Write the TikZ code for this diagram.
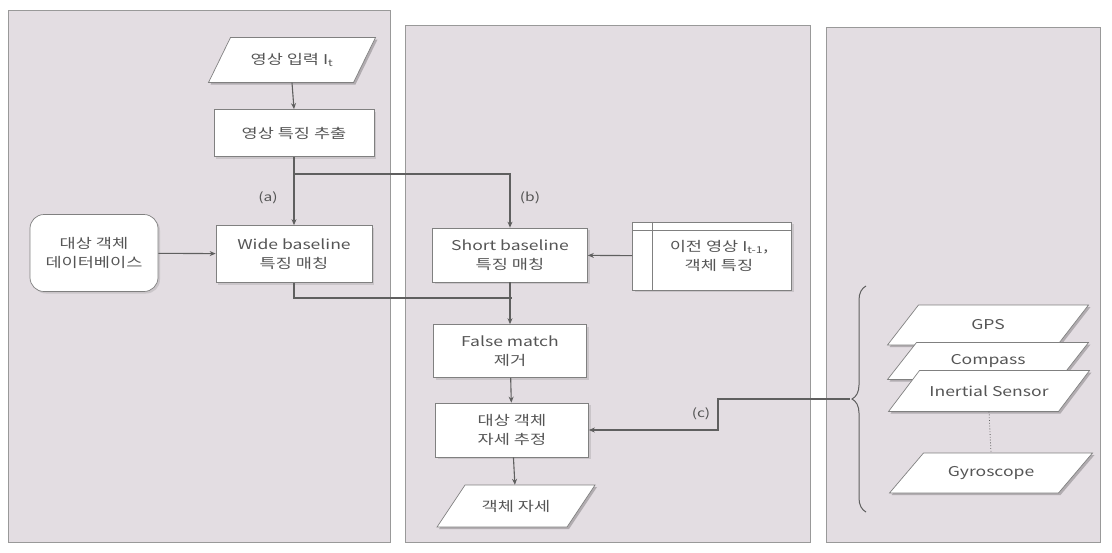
\documentclass[tikz,border=0pt]{standalone}
\usepackage{fontspec}
\setmainfont{Noto Sans CJK KR}[FakeStretch=1.3]
\usetikzlibrary{arrows.meta,decorations.pathreplacing,shadows}
\definecolor{panelcol}{RGB}{227,221,226}
\definecolor{txtcol}{RGB}{85,85,85}
\definecolor{linecol}{RGB}{95,95,95}
\tikzset{
  panel/.style={fill=panelcol,draw=black!40,line width=0.8pt},
  boxbase/.style={text=txtcol,align=center,
    font=\fontsize{13.5}{19}\selectfont,inner sep=2pt},
  procbox/.style={boxbase,rectangle,fill=white,draw=black!50,line width=0.7pt,
    drop shadow={shadow xshift=2pt,shadow yshift=-2pt,opacity=.25}},
  paraline/.style={fill=white,draw=black!50,line width=0.7pt},
  parashadow/.style={fill=black,opacity=.22},
  conn/.style={draw=linecol,line width=1.1pt},
  arr/.style={conn,-{Stealth[length=6pt,width=5pt]}},
  lab/.style={text=txtcol,font=\fontsize{12}{14}\selectfont}
}
% #1 name, #2 x, #3 y, #4 total width, #5 height, #6 slant, #7 text
\newcommand\paranode[7]{%
  \fill[parashadow] ({#2-#4/2+2},{#3+#5/2+2}) -- ({#2-#4/2+#6+2},{#3-#5/2+2})
     -- ({#2+#4/2+2},{#3-#5/2+2}) -- ({#2+#4/2-#6+2},{#3+#5/2+2}) -- cycle;
  \filldraw[paraline] ({#2-#4/2},{#3+#5/2}) -- ({#2-#4/2+#6},{#3-#5/2})
     -- ({#2+#4/2},{#3-#5/2}) -- ({#2+#4/2-#6},{#3+#5/2}) -- cycle;
  \node[boxbase,minimum width={#4*1pt},minimum height={#5*1pt}] (#1) at (#2,#3) {#7};%
}
\begin{document}
\begin{tikzpicture}[x=1pt,y=-1pt]
\useasboundingbox (0,0) rectangle (1112,552);
\fill[white] (0,0) rectangle (1112,552);
% panels
\draw[panel] (8,10) rectangle (390,542);
\draw[panel] (405,25) rectangle (810,542);
\draw[panel] (826,27) rectangle (1100,542);

% nodes
\paranode{inp}{292}{60}{167}{45}{22}{영상 입력 I\textsubscript{t}}
\node[procbox,minimum width=160pt,minimum height=47pt] (feat) at (294,133) {영상 특징 추출};
\node[procbox,minimum width=156pt,minimum height=57pt] (wide) at (294,254) {Wide baseline\\특징 매칭};
\node[procbox,rounded corners=14pt,minimum width=128pt,minimum height=77pt] (db) at (94,253) {대상 객체\\데이터베이스};
\node[procbox,minimum width=155pt,minimum height=54pt] (short) at (510,255) {Short baseline\\특징 매칭};
\node[procbox,minimum width=159pt,minimum height=68pt] (prev) at (712,256) {\hspace*{14pt}이전 영상 I\textsubscript{t-1},\\\hspace*{14pt}객체 특징};
\draw[black!50,line width=0.7pt] ([xshift=20pt]prev.north west) -- ([xshift=20pt]prev.south west);
\draw[black!50,line width=0.7pt] ([yshift=-9pt]prev.north west) -- ([yshift=-9pt]prev.north east);
\node[procbox,minimum width=153pt,minimum height=53pt] (fm) at (510,351) {False match\\제거};
\node[procbox,minimum width=153pt,minimum height=54pt] (pose) at (512,430) {대상 객체\\자세 추정};
\paranode{out}{516}{506}{158}{42}{28}{객체 자세}

\paranode{gps}{988}{325}{201}{40}{31}{GPS}
\paranode{comp}{988}{361}{201}{37}{29}{Compass}
\paranode{iner}{989}{391}{201}{41}{31}{Inertial Sensor}
\paranode{gyro}{991}{473}{203}{40}{34}{Gyroscope}
\draw[linecol,line width=0.8pt,dotted] (iner.south) -- (gyro.north);

% connectors
\coordinate (br) at (294,174);
\coordinate (jn) at (512,298);
\draw[arr] (inp.south) -- (feat.north);
\draw[conn] (feat.south) -- (br);
\draw[arr] (br) -- (wide.north);
\draw[arr] (br) -| (short.north);
\draw[arr] (db) -- (wide);
\draw[arr] (prev) -- (short);
\draw[conn] (wide.south) |- (jn);
\draw[arr] (short.south) -- (fm.north);
\draw[arr] (fm) -- (pose);
\draw[arr] (pose) -- (out);
\node[lab] (la) at (268,198) {(a)};
\node[lab] (lb) at (530,198) {(b)};

% brace and (c)
\draw[linecol,line width=1pt,decorate,decoration={brace,amplitude=14pt}] (866,512) -- (866,286);
\coordinate (bt) at (850,399);
\coordinate (c1) at (718,399);
\draw[arr] (bt) -- (c1) |- (pose.east);
\node[lab] (lc) at (701,414) {(c)};
\end{tikzpicture}
\end{document}
